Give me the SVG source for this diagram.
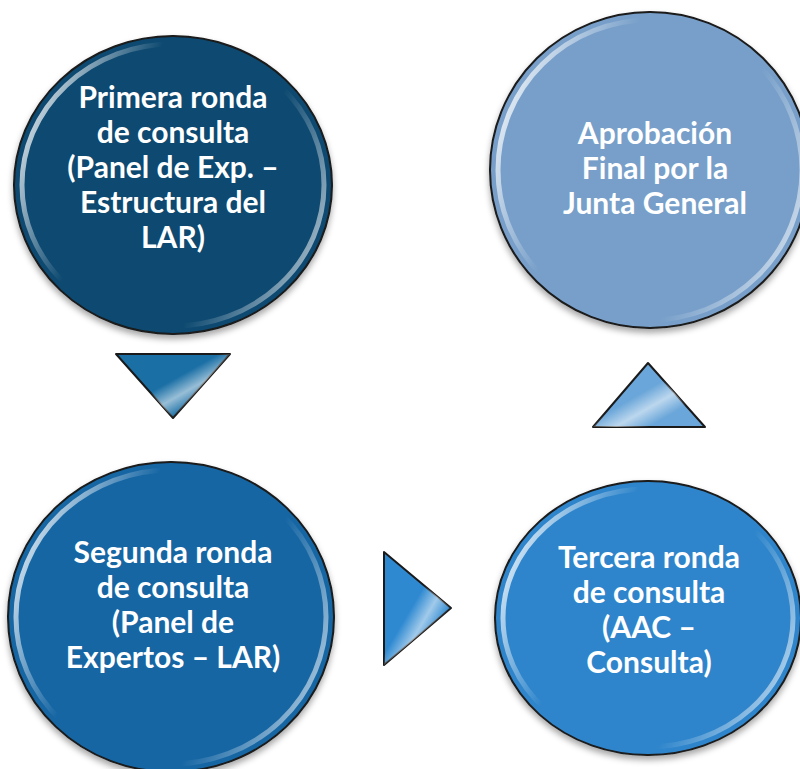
<svg xmlns="http://www.w3.org/2000/svg" width="800" height="769" viewBox="0 0 800 769">
<defs>
<filter id="sh" x="-10%" y="-10%" width="120%" height="125%">
<feDropShadow dx="0" dy="4" stdDeviation="3" flood-color="#000" flood-opacity="0.35"/>
</filter>
<linearGradient id="rim" x1="0" y1="0.3" x2="1" y2="0.7">
<stop offset="0" stop-color="#fff" stop-opacity="0.8"/>
<stop offset="0.3" stop-color="#fff" stop-opacity="0"/>
<stop offset="0.7" stop-color="#fff" stop-opacity="0"/>
<stop offset="1" stop-color="#fff" stop-opacity="0.6"/>
</linearGradient>
<linearGradient id="tri" x1="0" y1="0" x2="1" y2="1">
<stop offset="0" stop-color="#fff" stop-opacity="0"/>
<stop offset="0.45" stop-color="#fff" stop-opacity="0"/>
<stop offset="0.6" stop-color="#fff" stop-opacity="0.55"/>
<stop offset="0.75" stop-color="#fff" stop-opacity="0"/>
</linearGradient>
</defs>
<style>
.c{stroke:#1a1a1a;stroke-width:2;filter:url(#sh)}
.r{fill:none;stroke:url(#rim);stroke-width:5}
.t{fill:#fff;font-family:Lato,"Open Sans","Liberation Sans",sans-serif;font-weight:bold;font-size:30px;text-anchor:middle}
.a{stroke:#1a1a1a;stroke-width:2;stroke-linejoin:round}
</style>
<rect width="800" height="769" fill="#fff"/>
<g id="n1">
<ellipse class="c" cx="173" cy="185" rx="159" ry="149" fill="#0b4a70"/>
<ellipse class="r" cx="173" cy="185" rx="151" ry="141"/>
<text class="t" x="173" y="108">Primera ronda</text>
<text class="t" x="173" y="143">de consulta</text>
<text class="t" x="173" y="178">(Panel de Exp. –</text>
<text class="t" x="173" y="213">Estructura del</text>
<text class="t" x="173" y="248">LAR)</text>
</g>
<g id="n2">
<ellipse class="c" cx="650" cy="170" rx="160" ry="158" fill="#779fc9"/>
<ellipse class="r" cx="650" cy="170" rx="152" ry="150"/>
<text class="t" x="655" y="144">Aprobación</text>
<text class="t" x="655" y="179">Final por la</text>
<text class="t" x="655" y="214">Junta General</text>
</g>
<g id="n3">
<ellipse class="c" cx="171" cy="617" rx="163" ry="155" fill="#1366a4"/>
<ellipse class="r" cx="171" cy="617" rx="155" ry="147"/>
<text class="t" x="173" y="563">Segunda ronda</text>
<text class="t" x="173" y="598">de consulta</text>
<text class="t" x="173" y="633">(Panel de</text>
<text class="t" x="173" y="668">Expertos – LAR)</text>
</g>
<g id="n4">
<ellipse class="c" cx="648" cy="618" rx="153" ry="137" fill="#2f85cb"/>
<ellipse class="r" cx="648" cy="618" rx="145" ry="129"/>
<text class="t" x="649" y="568">Tercera ronda</text>
<text class="t" x="649" y="603">de consulta</text>
<text class="t" x="649" y="638">(AAC –</text>
<text class="t" x="649" y="673">Consulta)</text>
</g>
<g id="connectors">
<polygon class="a" points="116,354 230,354 173,418" fill="#1a6fa5"/>
<polygon points="116,354 230,354 173,418" fill="url(#tri)"/>
<polygon class="a" points="384,552 451,608 384,665" fill="#2e89d1"/>
<polygon points="384,552 451,608 384,665" fill="url(#tri)"/>
<polygon class="a" points="648,363 705,427 593,427" fill="#6aa6d9"/>
<polygon points="648,363 705,427 593,427" fill="url(#tri)"/>
</g>
</svg>
